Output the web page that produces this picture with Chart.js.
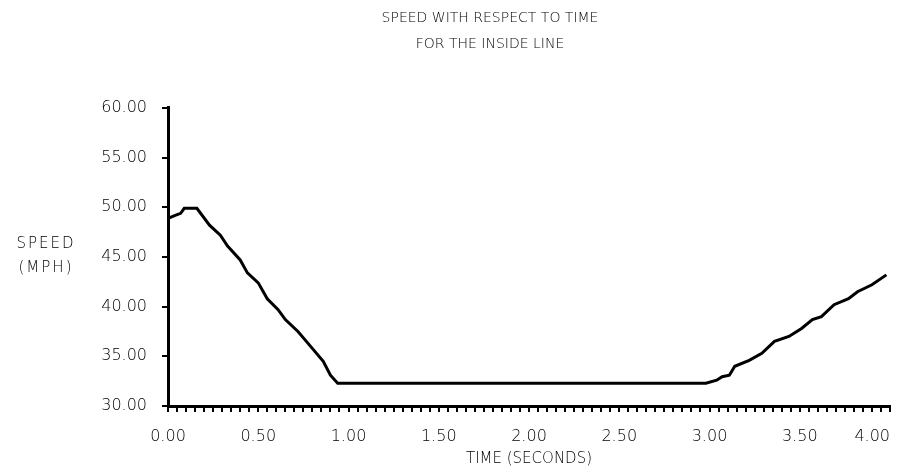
<!DOCTYPE html>
<html>
<head>
<meta charset="utf-8">
<script src="https://cdn.jsdelivr.net/npm/chart.js@4/dist/chart.umd.min.js"></script>
<style>
  html, body { margin: 0; padding: 0; background: #fff; }
  canvas { display: block; }
</style>
</head>
<body>
<canvas id="speedChart" width="906" height="467"></canvas>
<script>
// values
const timeValues = [0, 0.04, 0.07, 0.09, 0.16, 0.23, 0.29, 0.33, 0.40, 0.44, 0.50, 0.55, 0.61, 0.65, 0.72, 0.79, 0.86, 0.90, 0.94,
    2.98, 3.04, 3.07, 3.11, 3.14, 3.22, 3.29, 3.36, 3.44, 3.51, 3.57, 3.62, 3.69, 3.77, 3.82, 3.90, 3.98];
const speedValues = [48.9, 49.2, 49.4, 49.9, 49.9, 48.2, 47.2, 46.1, 44.7, 43.4, 42.4, 40.8, 39.7, 38.7, 37.5, 36.0, 34.5, 33.1, 32.3,
    32.3, 32.6, 32.95, 33.1, 34.0, 34.6, 35.3, 36.5, 37.0, 37.8, 38.7, 39.0, 40.2, 40.8, 41.5, 42.2, 43.2];

const titleLines = ['SPEED WITH RESPECT TO TIME', 'FOR THE INSIDE LINE'];
const yAxisLines = ['SPEED', '(MPH)'];
const xAxisTitle = 'TIME (SECONDS)';
const xRange = [0, 4];
const yRange = [30, 60];

const FONT = '"DejaVu Sans", sans-serif';

// y axis caption is horizontal in the reference, so it is drawn by hand
const sideLabel = {
    id: 'sideLabel',
    beforeDraw(chart) {
        // last tick label sits inside the canvas, right aligned
        const items = chart.scales.x.getLabelItems();
        const last = items[items.length - 1];
        if (last && last.label) last.options.textAlign = 'right';
    },
    afterDraw(chart) {
        const ctx = chart.ctx;
        ctx.save();
        ctx.font = '300 15px ' + FONT;
        ctx.fillStyle = '#000';
        ctx.textAlign = 'center';
        ctx.textBaseline = 'middle';
        if ('letterSpacing' in ctx) ctx.letterSpacing = '2px';
        yAxisLines.forEach((t, i) => ctx.fillText(t, 46, 244 + i * 24));
        ctx.restore();
    }
};

new Chart(document.getElementById('speedChart'), {
    type: 'line',
    data: {
        datasets: [{
            data: timeValues.map((t, i) => ({ x: t, y: speedValues[i] })),
            borderColor: '#000',
            borderWidth: 3,
            pointRadius: 0,
            tension: 0,
            fill: false
        }]
    },
    options: {
        responsive: false,
        animation: false,
        layout: { padding: { left: 74, right: 0, top: 0, bottom: 0 } },
        plugins: {
            legend: { display: false },
            tooltip: { enabled: false },
            title: {
                display: true,
                text: titleLines,
                color: '#000',
                font: { family: FONT, size: 14, weight: 300, lineHeight: 1.857 },
                padding: { top: 5, bottom: 51 }
            }
        },
        scales: {
            x: {
                type: 'linear',
                min: xRange[0],
                max: xRange[1],
                afterFit: s => { s.height = 61; s.paddingRight = 16; },
                ticks: {
                    stepSize: 0.05,
                    autoSkip: false,
                    maxRotation: 0,
                    padding: 15,
                    color: '#000',
                    font: { family: FONT, size: 16, weight: 300 },
                    callback: v => Math.round(v * 100) % 50 === 0 ? v.toFixed(2) : ''
                },
                grid: { drawOnChartArea: false, tickLength: 6, color: '#000', lineWidth: 2 },
                border: { color: '#000', width: 3 },
                title: {
                    display: true,
                    text: xAxisTitle,
                    color: '#000',
                    font: { family: FONT, size: 15, weight: 300, lineHeight: 1 },
                    padding: { top: 4, bottom: 0 }
                }
            },
            y: {
                min: yRange[0],
                max: yRange[1],
                afterFit: s => { s.width = 94; },
                ticks: {
                    stepSize: 5,
                    padding: 15,
                    color: '#000',
                    font: { family: FONT, size: 16, weight: 300 },
                    callback: v => v.toFixed(2)
                },
                grid: { drawOnChartArea: false, tickLength: 6, color: '#000', lineWidth: 2 },
                border: { color: '#000', width: 3 }
            }
        }
    },
    plugins: [sideLabel]
});
</script>
</body>
</html>
